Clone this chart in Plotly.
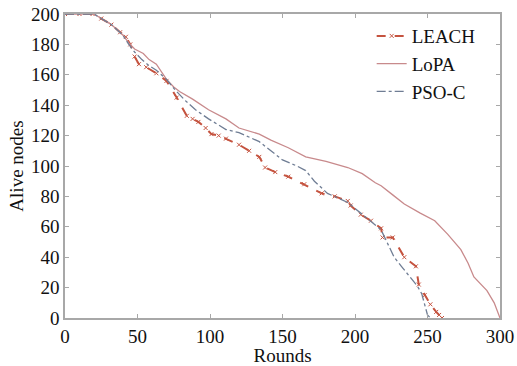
import plotly.graph_objects as go

leach_x = [0, 10, 19, 25, 32, 38, 42, 45, 48, 51, 56, 63, 70, 77, 84, 88, 92, 97, 101, 106, 111, 120, 127, 134, 138, 145, 154, 165, 177, 186, 195, 197, 204, 211, 218, 219, 226, 234, 242, 244, 248, 252, 256, 258, 260]
leach_y = [200, 200, 200, 197, 193, 188, 185, 180, 172, 167, 165, 161, 156, 145, 133, 131, 129, 125, 121, 120, 118, 114, 110, 106, 99, 96, 93, 88, 82, 80, 77, 74, 68, 64, 59, 53, 53, 40, 34, 22, 15, 9, 4, 2, 0]

lopa_x = [0, 20, 25, 32, 40, 44, 48, 54, 58, 63, 70, 75, 79, 88, 99, 111, 120, 134, 142, 154, 166, 180, 195, 205, 214, 218, 226, 234, 245, 255, 264, 273, 278, 282, 291, 296, 300]
lopa_y = [200, 200, 197, 193, 186, 181, 177, 174, 170, 167, 157, 152, 149, 144, 137, 131, 125, 121, 117, 112, 106, 103, 99, 95, 89, 87, 81, 75, 69, 64, 55, 45, 36, 27, 18, 10, 0]

pso_x = [0, 20, 25, 32, 40, 44, 48, 53, 58, 63, 70, 76, 83, 90, 99, 111, 120, 134, 142, 150, 160, 166, 172, 181, 195, 205, 218, 222, 227, 232, 238, 243, 246, 248, 250, 252]
pso_y = [200, 200, 197, 193, 186, 180, 175, 170, 166, 163, 157, 150, 143, 137, 131, 124, 122, 116, 110, 104, 100, 97, 90, 82, 76, 68, 58, 50, 40, 34, 27, 21, 16, 8, 2, 0]

x_ticks = [0, 50, 100, 150, 200, 250, 300]
y_ticks = [0, 20, 40, 60, 80, 100, 120, 140, 160, 180, 200]

FONT = "Liberation Serif"

fig = go.Figure()
fig.add_trace(go.Scatter(
    x=leach_x, y=leach_y, name="LEACH", mode="lines+markers",
    line=dict(color="#c5533f", width=2, dash="dash"),
    marker=dict(symbol="x-thin", size=4, line=dict(color="#c5533f", width=1)),
))
fig.add_trace(go.Scatter(
    x=lopa_x, y=lopa_y, name="LoPA", mode="lines",
    line=dict(color="#c88a8c", width=1.3),
))
fig.add_trace(go.Scatter(
    x=pso_x, y=pso_y, name="PSO-C", mode="lines",
    line=dict(color="#6f7d94", width=1.3, dash="dashdot"),
))

axis_common = dict(
    showgrid=False, zeroline=False, showline=True, linecolor="#a8a8a8", linewidth=1.5,
    mirror="ticks", ticks="inside", ticklen=4, tickcolor="#a8a8a8",
    tickfont=dict(family=FONT, size=19, color="#111"), automargin=False,
    ticklabeloverflow="allow",
)
fig.update_xaxes(range=[0, 300], tickvals=x_ticks, title=dict(text="Rounds", font=dict(family=FONT, size=19, color="#111"), standoff=4), **axis_common)
fig.update_yaxes(range=[0, 200], tickvals=y_ticks, title=dict(text="Alive nodes", font=dict(family=FONT, size=19, color="#111"), standoff=2), **axis_common)

fig.update_layout(
    width=517, height=366,
    margin=dict(l=65, r=17, t=14, b=48),
    plot_bgcolor="white", paper_bgcolor="white",
    font=dict(family=FONT, size=19, color="#111"),
    legend=dict(x=0.705, y=0.99, xanchor="left", yanchor="top", bgcolor="rgba(0,0,0,0)",
                font=dict(family=FONT, size=19), itemwidth=30, tracegroupgap=0),
)

fig.write_html("out.html")
